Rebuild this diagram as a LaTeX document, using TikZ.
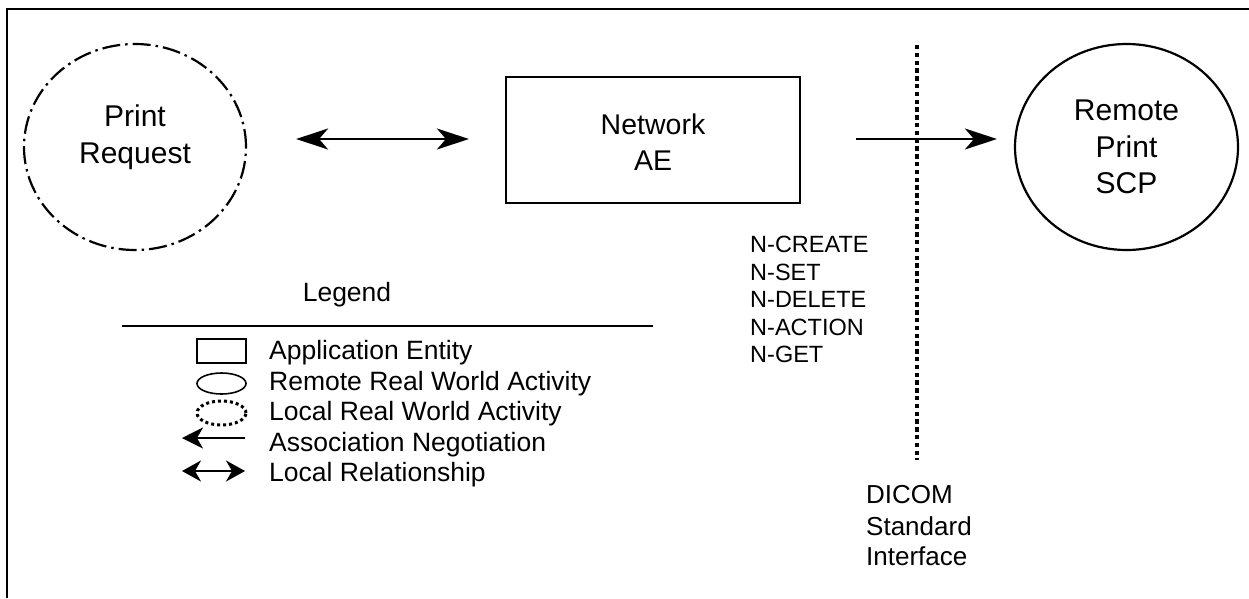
\documentclass[tikz,border=0pt]{standalone}
\usepackage{fontspec}
\setmainfont{Liberation Sans}
\usetikzlibrary{arrows.meta,shapes.geometric}
\begin{document}
\begin{tikzpicture}[x=1pt,y=-1pt,
  stroke/.style={line width=2.2pt},
  bigtip/.style={-{Stealth[length=32pt,width=21pt,inset=9pt]}},
  bigboth/.style={{Stealth[length=32pt,width=21pt,inset=9pt]}-{Stealth[length=32pt,width=21pt,inset=9pt]}},
  smallleft/.style={{Stealth[length=21pt,width=21pt,inset=6pt]}-},
  smallboth/.style={{Stealth[length=19pt,width=21pt,inset=6pt]}-{Stealth[length=19pt,width=21pt,inset=6pt]}},
  activity/.style={ellipse, draw, stroke, inner sep=0pt, minimum width=222pt, minimum height=206pt},
  entity/.style={rectangle, draw, stroke, inner sep=0pt},
  bigtxt/.style={font=\fontsize{30}{36}\selectfont, anchor=base, inner sep=0pt},
  aetxt/.style={font=\fontsize{28.5}{35}\selectfont, anchor=base, inner sep=0pt},
  legtxt/.style={font=\fontsize{26.5}{31}\selectfont, anchor=base west, inner sep=0pt},
  dimsetxt/.style={font=\fontsize{23.5}{28}\selectfont, anchor=base west, inner sep=0pt},
  ifacetxt/.style={font=\fontsize{26}{31}\selectfont, anchor=base west, inner sep=0pt},
  legsym/.style={draw, inner sep=0pt, minimum width=49pt},
]
\useasboundingbox (0,0) rectangle (1249,598);

% open frame: top and left edges only
\draw[line width=2.4pt] (1249,9) -- (7,9) -- (7,598);

% local real world activity
\node[activity, dash pattern=on 18pt off 5pt on 2.5pt off 5pt] (req) at (135,147) {};
\node[bigtxt] (reqA) at (135,126.7) {Print};
\node[bigtxt] (reqB) at (135,163.7) {Request};

% application entity
\node[entity, minimum width=294pt, minimum height=126pt] (ae) at (653,140) {};
\node[aetxt] (aeA) at (653,134.7) {Network};
\node[aetxt] (aeB) at (653,170.2) {AE};

% remote real world activity
\node[activity, minimum width=223pt] (scp) at (1126.5,147) {};
\node[bigtxt] (scpA) at (1126.5,120.7) {Remote};
\node[bigtxt] (scpB) at (1126.5,157.7) {Print};
\node[bigtxt] (scpC) at (1126.5,193.7) {SCP};

% relationships (kept level with the entity box)
\coordinate (lvl) at (0,139);
\draw[stroke, bigboth] ([xshift=49pt]req.east |- lvl) -- ([xshift=-36pt]ae.west |- lvl);
\draw[stroke, bigtip] ([xshift=55pt]ae.east |- lvl) -- ([xshift=-17pt]scp.west |- lvl);

% DICOM standard interface
\coordinate (ifTop) at (917,45);
\coordinate (ifBot) at (917,460);
\draw[line width=4.5pt, dash pattern=on 4.3pt off 3.5pt] (ifTop) -- (ifBot);
\node[ifacetxt] (ifA) at (866,503.3) {DICOM};
\node[ifacetxt] (ifB) at (866,535.3) {Standard};
\node[ifacetxt] (ifC) at (866,565.3) {Interface};

% DIMSE services
\node[dimsetxt] (s1) at (750,252.4) {N-CREATE};
\node[dimsetxt] (s2) at (750,280) {N-SET};
\node[dimsetxt] (s3) at (750,307.6) {N-DELETE};
\node[dimsetxt] (s4) at (750,335.1) {N-ACTION};
\node[dimsetxt] (s5) at (750,362.6) {N-GET};

% legend
\node[font=\fontsize{26.5}{31}\selectfont, anchor=base, inner sep=0pt] (leg) at (347,301.5) {Legend};
\draw[line width=1.5pt] (122,326) -- (653,326);

\node[legsym, rectangle, line width=1.6pt, minimum height=24pt] (symAE) at (221.5,351) {};
\node[legsym, ellipse, line width=1.6pt, minimum height=21pt] (symRem) at (221.5,383.5) {};
\node[legsym, ellipse, line width=3pt, dash pattern=on 3pt off 3pt, minimum height=24pt] (symLoc) at (221.5,413) {};
\coordinate (anL) at (182,438);
\coordinate (anR) at (245,438);
\draw[stroke, smallleft] (anL) -- (anR);
\coordinate (lrL) at (182,471);
\coordinate (lrR) at (245,471);
\draw[stroke, smallboth] (lrL) -- (lrR);

\node[legtxt] (l1) at (269,359.5) {Application Entity};
\node[legtxt] (l2) at (269,390) {Remote Real World Activity};
\node[legtxt] (l3) at (269,420.5) {Local Real World Activity};
\node[legtxt] (l4) at (269,451) {Association Negotiation};
\node[legtxt] (l5) at (269,481.5) {Local Relationship};
\end{tikzpicture}
\end{document}
